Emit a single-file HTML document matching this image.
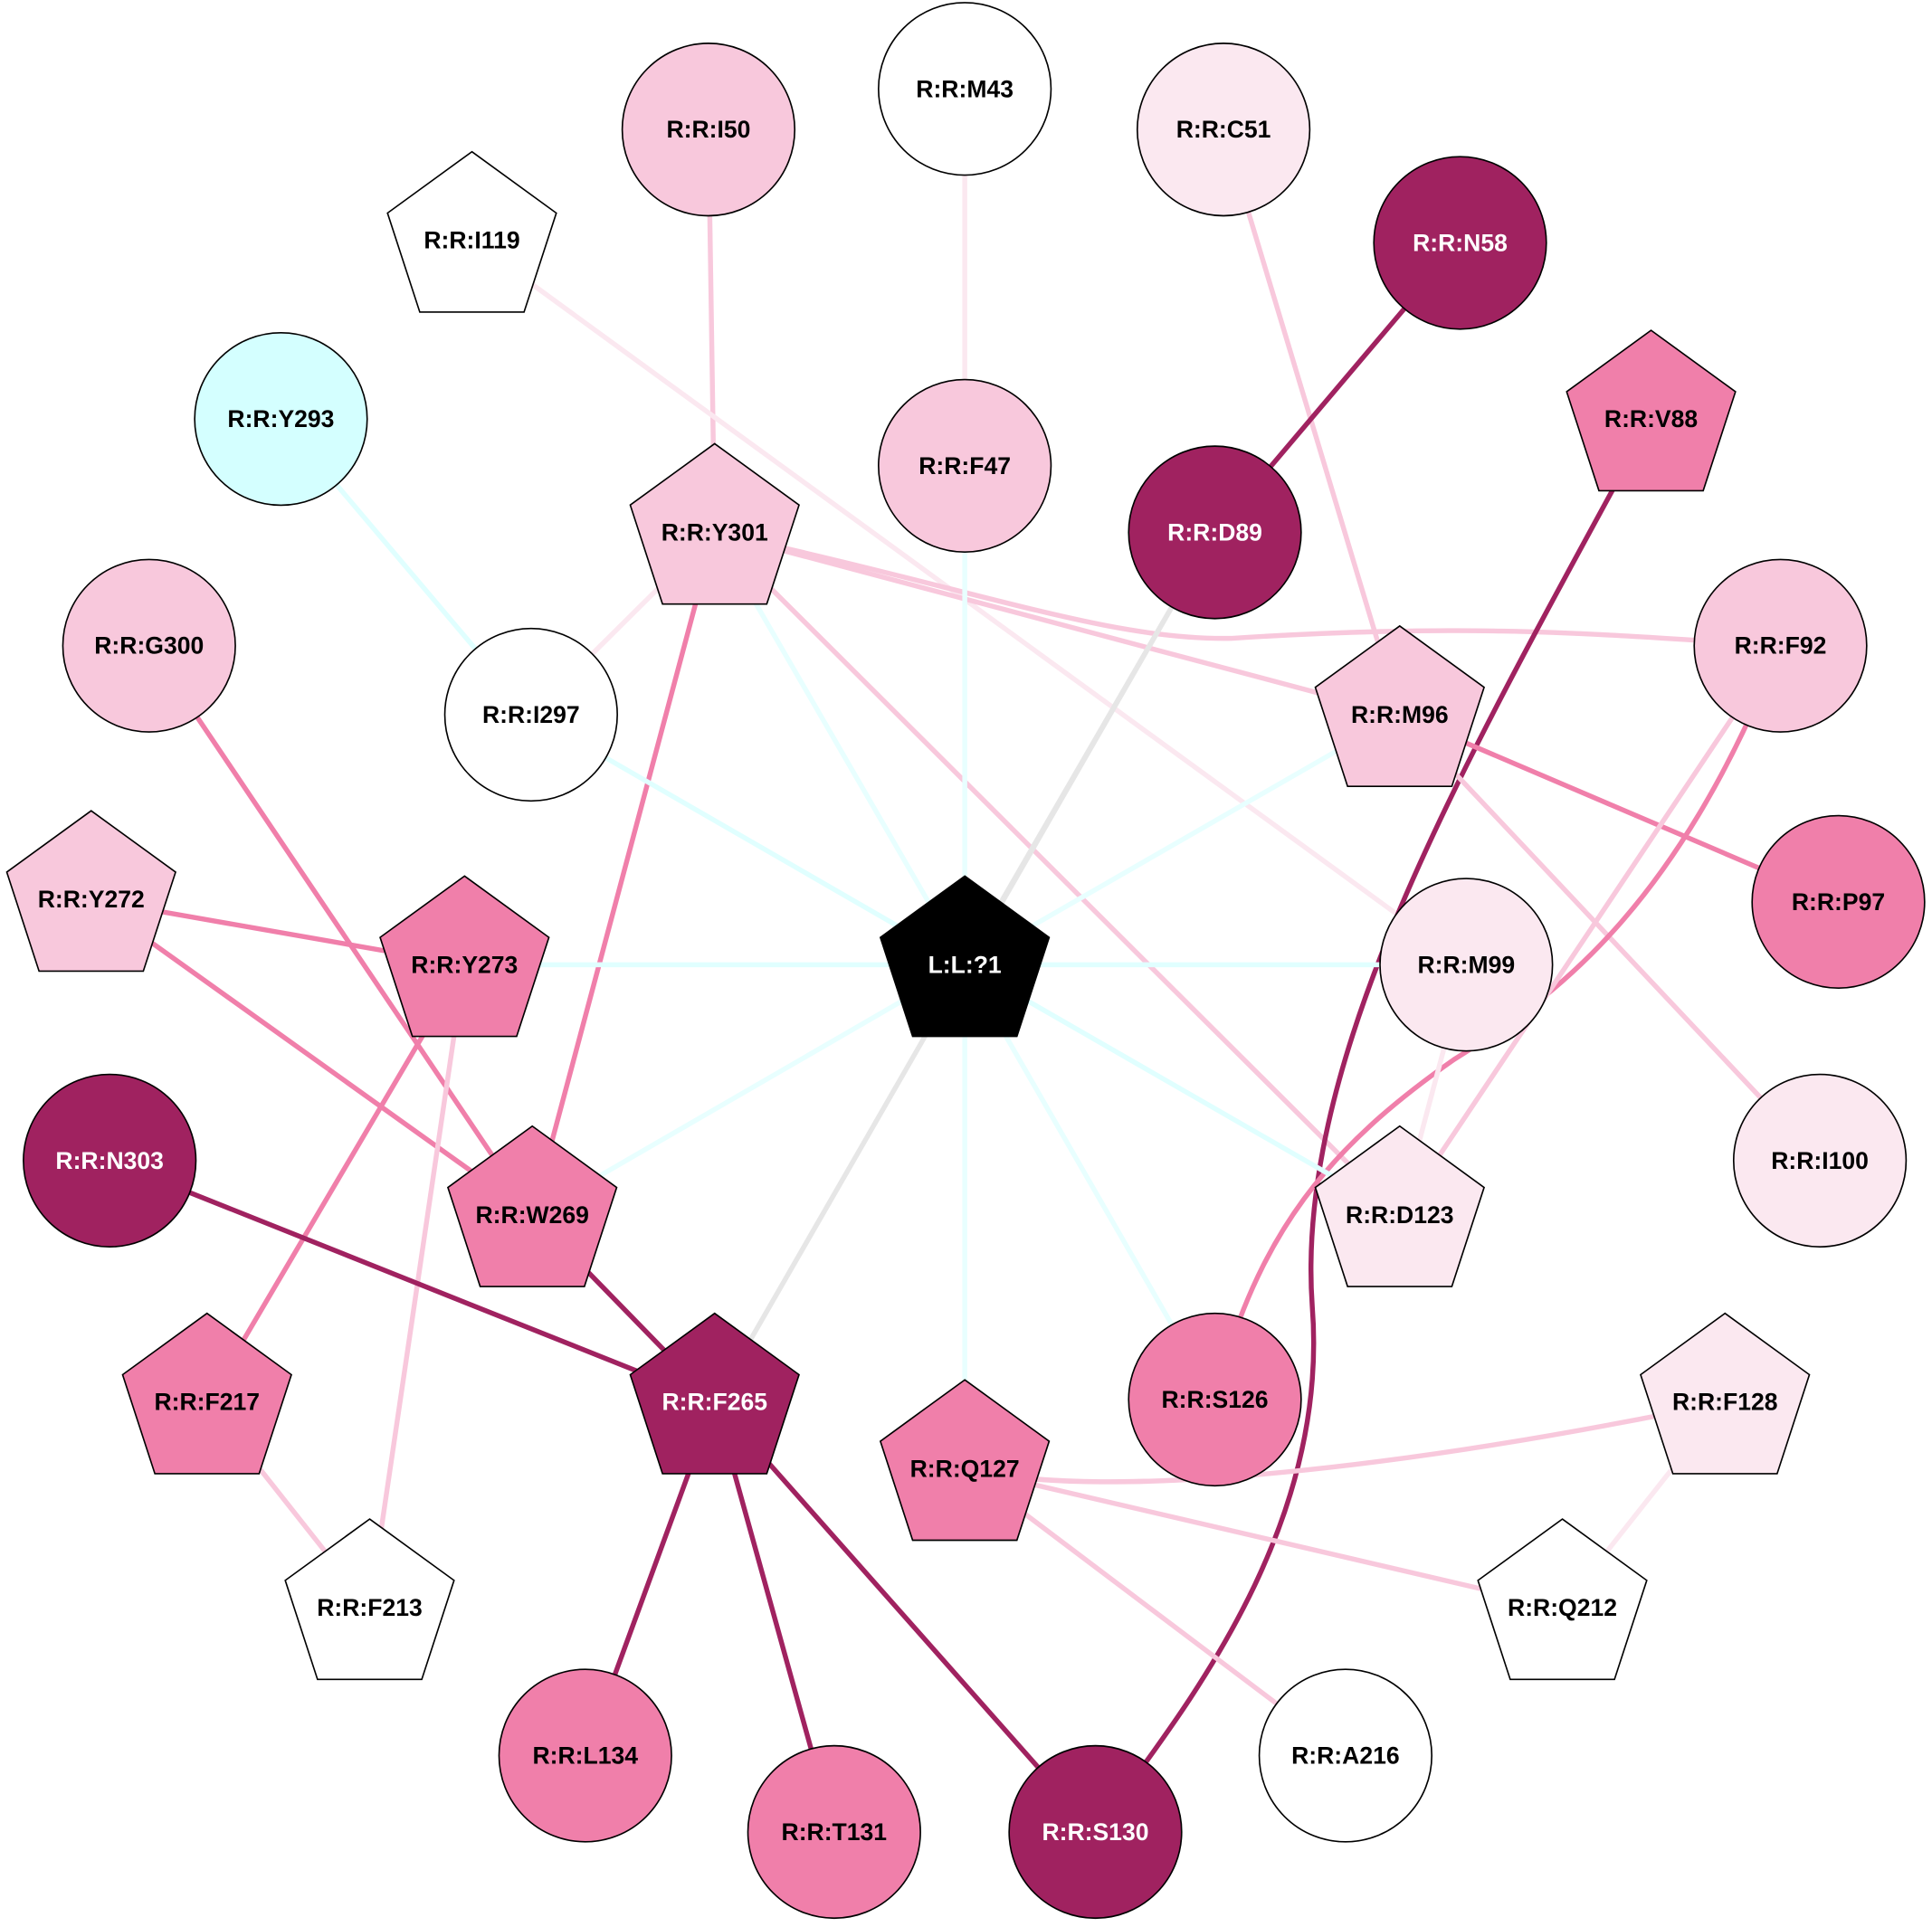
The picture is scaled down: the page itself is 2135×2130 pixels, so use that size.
<!DOCTYPE html>
<html><head><meta charset="utf-8"><style>html,body{margin:0;padding:0;background:#fff}svg{display:block}</style></head>
<body>
<svg width="2135" height="2130" viewBox="0 0 1568 1564" xmlns="http://www.w3.org/2000/svg">
<g fill="none" stroke-width="4">
<line x1="783" y1="72" x2="783" y2="378" stroke="#FBE8F0"/>
<line x1="575" y1="105" x2="580" y2="432" stroke="#F8C8DC"/>
<line x1="993" y1="105" x2="1136" y2="580" stroke="#F8C8DC"/>
<line x1="1185" y1="197" x2="986" y2="432" stroke="#A02260"/>
<line x1="383" y1="195" x2="1190" y2="783" stroke="#FBE8F0"/>
<line x1="228" y1="340" x2="431" y2="580" stroke="#E0FFFF"/>
<line x1="580" y1="432" x2="431" y2="580" stroke="#FBE8F0"/>
<line x1="580" y1="432" x2="1136" y2="580" stroke="#F8C8DC"/>
<path d="M580,432 C800,480 900,520 1000,518 C1200,505 1300,515 1445,524" stroke="#F8C8DC"/>
<line x1="580" y1="432" x2="1136" y2="986" stroke="#F8C8DC"/>
<line x1="580" y1="432" x2="432" y2="986" stroke="#F07FAA"/>
<line x1="580" y1="432" x2="783" y2="783" stroke="#E8FFFF"/>
<line x1="783" y1="378" x2="783" y2="783" stroke="#E8FFFF"/>
<line x1="986" y1="432" x2="783" y2="783" stroke="#E6E6E6"/>
<line x1="986" y1="432" x2="580" y2="1138" stroke="#E6E6E6"/>
<path d="M1340,340 C1200,600 1050,850 1065,1060 C1080,1250 950,1400 889,1487" stroke="#A02260"/>
<line x1="1136" y1="580" x2="783" y2="783" stroke="#E8FFFF"/>
<line x1="1136" y1="580" x2="1492" y2="732" stroke="#F07FAA"/>
<line x1="1136" y1="580" x2="1477" y2="942" stroke="#F8C8DC"/>
<path d="M1445,524 C1360,740 1260,810 1180,860 C1080,930 1020,1000 986,1136" stroke="#F07FAA"/>
<line x1="1445" y1="524" x2="1136" y2="986" stroke="#F8C8DC"/>
<line x1="431" y1="580" x2="783" y2="783" stroke="#E0FFFF"/>
<line x1="121" y1="524" x2="432" y2="986" stroke="#F07FAA"/>
<line x1="74" y1="730" x2="377" y2="783" stroke="#F07FAA"/>
<line x1="74" y1="730" x2="432" y2="986" stroke="#F07FAA"/>
<line x1="377" y1="783" x2="783" y2="783" stroke="#E0FFFF"/>
<line x1="377" y1="783" x2="168" y2="1138" stroke="#F07FAA"/>
<line x1="377" y1="783" x2="300" y2="1305" stroke="#F8C8DC"/>
<line x1="783" y1="783" x2="1190" y2="783" stroke="#E0FFFF"/>
<line x1="783" y1="783" x2="1136" y2="986" stroke="#E0FFFF"/>
<line x1="783" y1="783" x2="432" y2="986" stroke="#E8FFFF"/>
<line x1="783" y1="783" x2="783" y2="1192" stroke="#E8FFFF"/>
<line x1="783" y1="783" x2="986" y2="1136" stroke="#E8FFFF"/>
<line x1="1190" y1="783" x2="1136" y2="986" stroke="#FBE8F0"/>
<line x1="89" y1="942" x2="580" y2="1138" stroke="#A02260"/>
<line x1="432" y1="986" x2="580" y2="1138" stroke="#A02260"/>
<line x1="580" y1="1138" x2="475" y2="1425" stroke="#A02260"/>
<line x1="580" y1="1138" x2="677" y2="1487" stroke="#A02260"/>
<line x1="580" y1="1138" x2="889" y2="1487" stroke="#A02260"/>
<line x1="168" y1="1138" x2="300" y2="1305" stroke="#F8C8DC"/>
<path d="M783,1192 C900,1220 1150,1190 1400,1138" stroke="#F8C8DC"/>
<line x1="783" y1="1192" x2="1268" y2="1305" stroke="#F8C8DC"/>
<line x1="783" y1="1192" x2="1092" y2="1425" stroke="#F8C8DC"/>
<line x1="1400" y1="1138" x2="1268" y2="1305" stroke="#FBE8F0"/>
</g>
<defs>
<polygon id="p" points="0,-72 68.5,-22.2 42.3,58.2 -42.3,58.2 -68.5,-22.2"/>
</defs>
<g stroke="#000" stroke-width="1.2">
<circle cx="783" cy="72" r="70" fill="#fff"/>
<circle cx="575" cy="105" r="70" fill="#F8C8DC"/>
<circle cx="993" cy="105" r="70" fill="#FBE8F0"/>
<use href="#p" x="383" y="195" fill="#fff"/>
<circle cx="1185" cy="197" r="70" fill="#A02260"/>
<circle cx="228" cy="340" r="70" fill="#D4FFFF"/>
<circle cx="783" cy="378" r="70" fill="#F8C8DC"/>
<use href="#p" x="580" y="432" fill="#F8C8DC"/>
<circle cx="986" cy="432" r="70" fill="#A02260"/>
<use href="#p" x="1340" y="340" fill="#F07FAA"/>
<circle cx="121" cy="524" r="70" fill="#F8C8DC"/>
<circle cx="431" cy="580" r="70" fill="#fff"/>
<use href="#p" x="1136" y="580" fill="#F8C8DC"/>
<circle cx="1445" cy="524" r="70" fill="#F8C8DC"/>
<use href="#p" x="74" y="730" fill="#F8C8DC"/>
<use href="#p" x="377" y="783" fill="#F07FAA"/>
<use href="#p" x="783" y="783" fill="#000"/>
<circle cx="1190" cy="783" r="70" fill="#FBE8F0"/>
<circle cx="1492" cy="732" r="70" fill="#F07FAA"/>
<circle cx="89" cy="942" r="70" fill="#A02260"/>
<use href="#p" x="432" y="986" fill="#F07FAA"/>
<use href="#p" x="1136" y="986" fill="#FBE8F0"/>
<circle cx="1477" cy="942" r="70" fill="#FBE8F0"/>
<use href="#p" x="168" y="1138" fill="#F07FAA"/>
<use href="#p" x="580" y="1138" fill="#A02260"/>
<use href="#p" x="783" y="1192" fill="#F07FAA"/>
<circle cx="986" cy="1136" r="70" fill="#F07FAA"/>
<use href="#p" x="1400" y="1138" fill="#FBE8F0"/>
<use href="#p" x="300" y="1305" fill="#fff"/>
<use href="#p" x="1268" y="1305" fill="#fff"/>
<circle cx="475" cy="1425" r="70" fill="#F07FAA"/>
<circle cx="677" cy="1487" r="70" fill="#F07FAA"/>
<circle cx="889" cy="1487" r="70" fill="#A02260"/>
<circle cx="1092" cy="1425" r="70" fill="#fff"/>
</g>
<g font-family="Liberation Sans, sans-serif" font-weight="bold" font-size="19.5" text-anchor="middle" dominant-baseline="central" fill="#000">
<text x="783" y="72">R:R:M43</text>
<text x="575" y="105">R:R:I50</text>
<text x="993" y="105">R:R:C51</text>
<text x="383" y="195">R:R:I119</text>
<text x="1185" y="197" fill="#fff">R:R:N58</text>
<text x="228" y="340">R:R:Y293</text>
<text x="783" y="378">R:R:F47</text>
<text x="580" y="432">R:R:Y301</text>
<text x="986" y="432" fill="#fff">R:R:D89</text>
<text x="1340" y="340">R:R:V88</text>
<text x="121" y="524">R:R:G300</text>
<text x="431" y="580">R:R:I297</text>
<text x="1136" y="580">R:R:M96</text>
<text x="1445" y="524">R:R:F92</text>
<text x="74" y="730">R:R:Y272</text>
<text x="377" y="783">R:R:Y273</text>
<text x="783" y="783" fill="#fff">L:L:?1</text>
<text x="1190" y="783">R:R:M99</text>
<text x="1492" y="732">R:R:P97</text>
<text x="89" y="942" fill="#fff">R:R:N303</text>
<text x="432" y="986">R:R:W269</text>
<text x="1136" y="986">R:R:D123</text>
<text x="1477" y="942">R:R:I100</text>
<text x="168" y="1138">R:R:F217</text>
<text x="580" y="1138" fill="#fff">R:R:F265</text>
<text x="783" y="1192">R:R:Q127</text>
<text x="986" y="1136">R:R:S126</text>
<text x="1400" y="1138">R:R:F128</text>
<text x="300" y="1305">R:R:F213</text>
<text x="1268" y="1305">R:R:Q212</text>
<text x="475" y="1425">R:R:L134</text>
<text x="677" y="1487">R:R:T131</text>
<text x="889" y="1487" fill="#fff">R:R:S130</text>
<text x="1092" y="1425">R:R:A216</text>
</g>
</svg>
</body></html>
